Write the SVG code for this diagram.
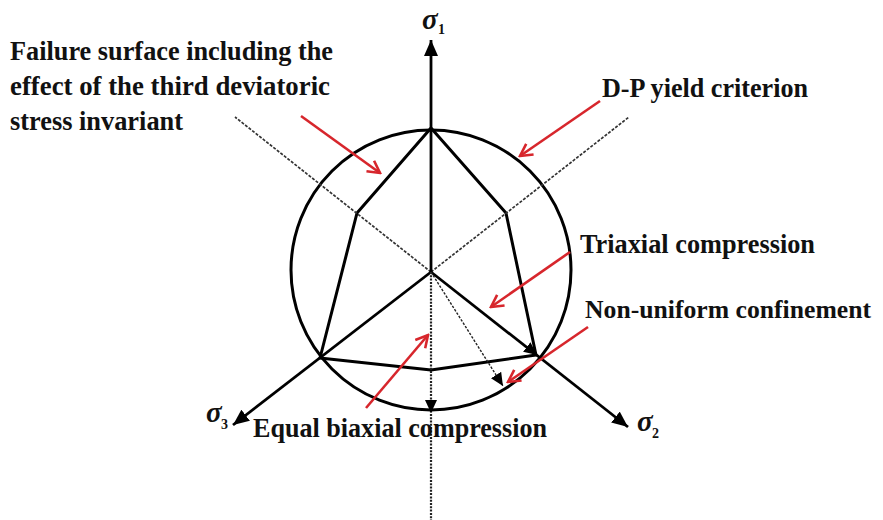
<svg xmlns="http://www.w3.org/2000/svg" width="883" height="520" viewBox="0 0 883 520">
<style>
.lbl{font-family:"Liberation Serif","Times New Roman",serif;font-size:27px;font-weight:bold;fill:#111}
.sig{font-family:"Liberation Serif","Times New Roman",serif;font-style:italic;font-weight:bold;font-size:29px;fill:#111}
.sub{font-family:"Liberation Serif","Times New Roman",serif;font-weight:bold;font-size:14px;fill:#111}
.bold{fill:none;stroke:#000;stroke-width:3;stroke-linejoin:round}
.axis{fill:none;stroke:#000;stroke-width:2.8}
.ext{fill:none;stroke:#333;stroke-width:1.7;stroke-dasharray:3 1.5}
.dot{fill:none;stroke:#222;stroke-width:2.2;stroke-dasharray:2 1.3}
.dotthin{fill:none;stroke:#222;stroke-width:1.4;stroke-dasharray:2.5 1.5}
.red{fill:none;stroke:#d7262c;stroke-width:2.6}
</style>
<defs>
<marker id="redhead" viewBox="0 0 16 16" refX="14" refY="8" markerWidth="16" markerHeight="16" orient="auto" markerUnits="userSpaceOnUse">
<path d="M2,1.5 L14,8 L2,14.5" fill="none" stroke="#d7262c" stroke-width="2.6"/>
</marker>
<marker id="blackhead" viewBox="0 0 16 14" refX="16" refY="7" markerWidth="16" markerHeight="14" orient="auto" markerUnits="userSpaceOnUse">
<path d="M0,0 L16,7 L0,14 z" fill="#000"/>
</marker>
<marker id="smallhead" viewBox="0 0 13 12" refX="13" refY="6" markerWidth="13" markerHeight="12" orient="auto" markerUnits="userSpaceOnUse">
<path d="M0,0 L13,6 L0,12 z" fill="#000"/>
</marker>
</defs>
<rect width="883" height="520" fill="#fff"/>

<g id="dp-circle">
<circle cx="431" cy="270" r="140" class="bold"/>
</g>

<g id="failure-surface">
<path d="M431,128 L357,213 L320,358 L431,370 L536,355 L506,213 Z" class="bold"/>
</g>

<g id="connectors">
<line x1="431" y1="272" x2="235" y2="117" class="ext"/>
<line x1="431" y1="272" x2="629" y2="117" class="ext"/>
<line x1="431" y1="272" x2="431" y2="40" class="axis" marker-end="url(#blackhead)"/>
<line x1="431" y1="272" x2="628" y2="427" class="axis" marker-end="url(#blackhead)"/>
<line x1="431" y1="272" x2="233" y2="425" class="axis" marker-end="url(#blackhead)"/>
<line x1="431" y1="272" x2="431" y2="520" class="dot"/>
<line x1="431" y1="272" x2="431" y2="413" stroke="none" marker-end="url(#smallhead)"/>
<line x1="431" y1="272" x2="503" y2="386" class="dotthin" marker-end="url(#smallhead)"/>
<line x1="431" y1="272" x2="537" y2="355" stroke="none" marker-end="url(#smallhead)"/>
<line x1="301" y1="116" x2="380" y2="173" class="red" marker-end="url(#redhead)"/>
<line x1="600" y1="101" x2="520" y2="156" class="red" marker-end="url(#redhead)"/>
<line x1="570" y1="252" x2="491" y2="307" class="red" marker-end="url(#redhead)"/>
<line x1="588" y1="327" x2="508" y2="382" class="red" marker-end="url(#redhead)"/>
<line x1="366" y1="408" x2="428" y2="335" class="red" marker-end="url(#redhead)"/>
</g>

<g id="label-failure">
<text class="lbl" x="10" y="60" textLength="323" lengthAdjust="spacingAndGlyphs">Failure surface including the</text>
<text class="lbl" x="10" y="95" textLength="320" lengthAdjust="spacingAndGlyphs">effect of the third deviatoric</text>
<text class="lbl" x="10" y="130" textLength="173" lengthAdjust="spacingAndGlyphs">stress invariant</text>
</g>
<g id="label-dp">
<text class="lbl" x="602" y="97" textLength="206" lengthAdjust="spacingAndGlyphs">D-P yield criterion</text>
</g>
<g id="label-triaxial">
<text class="lbl" x="580" y="253" textLength="235" lengthAdjust="spacingAndGlyphs">Triaxial compression</text>
</g>
<g id="label-nonuniform">
<text class="lbl" x="585" y="318" style="font-size:25.5px" textLength="286" lengthAdjust="spacingAndGlyphs">Non-uniform confinement</text>
</g>
<g id="label-biaxial">
<text class="lbl" x="253" y="437" textLength="294" lengthAdjust="spacingAndGlyphs">Equal biaxial compression</text>
</g>
<g id="axis-s1">
<text class="sig" x="422" y="29">σ</text><text class="sub" x="438" y="34">1</text>
</g>
<g id="axis-s2">
<text class="sig" x="637" y="431">σ</text><text class="sub" x="652" y="438">2</text>
</g>
<g id="axis-s3">
<text class="sig" x="206" y="422">σ</text><text class="sub" x="221" y="429">3</text>
</g>
</svg>
